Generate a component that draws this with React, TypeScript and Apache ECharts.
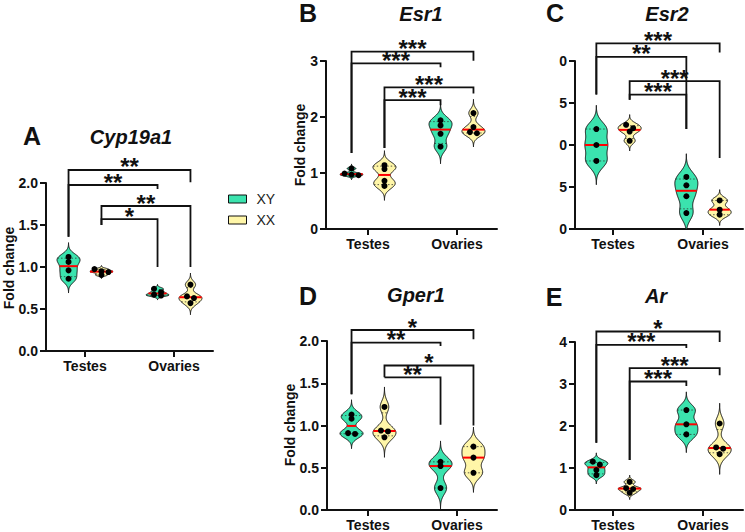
import React, { useEffect, useRef } from 'react';
import * as echarts from 'echarts';

const CATEGORIES = ['Testes', 'Ovaries'];
const GROUP_NAMES = ['XY', 'XX'];
const PANEL_LETTERS = ['A', 'B', 'C', 'D', 'E'];
const GENES = ['Cyp19a1', 'Esr1', 'Esr2', 'Gper1', 'Ar'];
const Y_TITLE = 'Fold change';

// group order in every panel: 0 Testes XY, 1 Testes XX, 2 Ovaries XY, 3 Ovaries XX
const CYP19A1_TESTES_XY = [1.12, 1.06, 0.96, 0.86];
const CYP19A1_TESTES_XX = [0.975, 0.95, 0.94, 0.905];
const CYP19A1_OVARIES_XY = [0.74, 0.7, 0.67, 0.66];
const CYP19A1_OVARIES_XX = [0.79, 0.65, 0.63, 0.57];

const ESR1_TESTES_XY = [1.08, 0.99, 0.97, 0.96];
const ESR1_TESTES_XX = [1.14, 1.07, 0.86, 0.77];
const ESR1_OVARIES_XY = [1.94, 1.85, 1.7, 1.47];
const ESR1_OVARIES_XX = [2.07, 1.82, 1.73, 1.71];

const ESR2_TESTES_XY = [1.19, 1.0, 0.81];
const ESR2_TESTES_XX = [1.24, 1.2, 1.16, 1.05];
const ESR2_OVARIES_XY = [0.62, 0.52, 0.39, 0.19];
const ESR2_OVARIES_XX = [0.34, 0.23, 0.17];

const GPER1_TESTES_XY = [1.13, 1.08, 0.91, 0.9];
const GPER1_TESTES_XX = [1.22, 0.94, 0.93, 0.86];
const GPER1_OVARIES_XY = [0.57, 0.52, 0.26];
const GPER1_OVARIES_XX = [0.75, 0.62, 0.44];

const AR_TESTES_XY = [1.15, 1.08, 0.95, 0.83];
const AR_TESTES_XX = [0.67, 0.52, 0.5, 0.41];
const AR_OVARIES_XY = [2.38, 2.04, 1.8];
const AR_OVARIES_XX = [2.06, 1.49, 1.46, 1.33];

// y-axis tick labels (C is cropped in the source figure)
const CYP19A1_TICKS = ['0.0', '0.5', '1.0', '1.5', '2.0'];
const ESR1_TICKS = ['0', '1', '2', '3'];
const ESR2_TICKS = ['0', '5', '0', '5', '0'];
const GPER1_TICKS = ['0.0', '0.5', '1.0', '1.5', '2.0'];
const AR_TICKS = ['0', '1', '2', '3', '4'];
const TICK_STEPS = [0.5, 1, 0.5, 0.5, 1];

// significance brackets: [fromGroup, toGroup, barValue, leftEndValue, rightEndValue]
const CYP19A1_BRACKETS = [[0, 3, 2.155, 1.36, 2.01], [0, 2, 1.976, 1.36, 1.93], [1, 3, 1.726, 1.5, 1.0], [1, 2, 1.571, 1.5, 1.0]];
const CYP19A1_STARS = ['**', '**', '**', '*'];
const ESR1_BRACKETS = [[0, 3, 3.166, 1.357, 3.005], [0, 2, 2.958, 1.357, 2.887], [1, 3, 2.53, 1.446, 2.42], [1, 2, 2.3, 1.446, 2.21]];
const ESR1_STARS = ['***', '***', '***', '***'];
const ESR2_BRACKETS = [[0, 3, 2.21, 1.6, 2.1], [0, 2, 2.05, 1.6, 1.19], [1, 3, 1.76, 1.54, 0.845], [1, 2, 1.6, 1.54, 1.19]];
const ESR2_STARS = ['***', '**', '***', '***'];
const GPER1_BRACKETS = [[0, 3, 2.13, 1.37, 2.02], [0, 2, 1.98, 1.37, 1.94], [1, 3, 1.71, 1.57, 1.0], [1, 2, 1.57, 1.57, 1.01]];
const GPER1_STARS = ['*', '**', '*', '**'];
const AR_BRACKETS = [[0, 3, 4.25, 1.6, 4.0], [0, 2, 3.93, 1.6, 3.86], [1, 3, 3.38, 1.19, 3.21], [1, 2, 3.06, 1.19, 2.95]];
const AR_STARS = ['*', '***', '***', '***'];

const PANEL_GROUPS = [
  [CYP19A1_TESTES_XY, CYP19A1_TESTES_XX, CYP19A1_OVARIES_XY, CYP19A1_OVARIES_XX],
  [ESR1_TESTES_XY, ESR1_TESTES_XX, ESR1_OVARIES_XY, ESR1_OVARIES_XX],
  [ESR2_TESTES_XY, ESR2_TESTES_XX, ESR2_OVARIES_XY, ESR2_OVARIES_XX],
  [GPER1_TESTES_XY, GPER1_TESTES_XX, GPER1_OVARIES_XY, GPER1_OVARIES_XX],
  [AR_TESTES_XY, AR_TESTES_XX, AR_OVARIES_XY, AR_OVARIES_XX],
];
const PANEL_TICKS = [CYP19A1_TICKS, ESR1_TICKS, ESR2_TICKS, GPER1_TICKS, AR_TICKS];
const PANEL_BRACKETS = [CYP19A1_BRACKETS, ESR1_BRACKETS, ESR2_BRACKETS, GPER1_BRACKETS, AR_BRACKETS];
const PANEL_STARS = [CYP19A1_STARS, ESR1_STARS, ESR2_STARS, GPER1_STARS, AR_STARS];

// ---- layout (pixels) ----
const LAYOUT = [
  { left: 46, top: 183, width: 167, height: 168, tx: 85, ox: 174, letter: [32, 136], gene: [131, 137], yTitle: [9, 268] },
  { left: 326, top: 61, width: 171, height: 168, tx: 368, ox: 457, letter: [308, 13], gene: [421, 14], yTitle: [300, 145] },
  { left: 575, top: 61, width: 168, height: 168, tx: 613, ox: 703, letter: [555, 13], gene: [667, 14], yTitle: null },
  { left: 327, top: 341, width: 170, height: 169, tx: 368, ox: 457, letter: [308, 296], gene: [416, 295], yTitle: [290, 425] },
  { left: 575, top: 342, width: 168, height: 168, tx: 613, ox: 703, letter: [554, 297], gene: [656, 296], yTitle: null },
];

const FONT = '"Liberation Sans", Arial, sans-serif';
const FILLS = ['#3BE3AE', '#FFF6A8'];
const HALF_W = 11.5;
const GROUP_OFFSET = 0.185;
const groupX = (g: number) => Math.floor(g / 2) + (g % 2 === 0 ? -GROUP_OFFSET : GROUP_OFFSET);

function quantile(sorted: number[], p: number) {
  const n = sorted.length;
  const r = (n + 1) * p;
  const lo = Math.floor(r);
  const f = r - lo;
  if (lo < 1) return sorted[0];
  if (lo >= n) return sorted[n - 1];
  return sorted[lo - 1] + f * (sorted[lo] - sorted[lo - 1]);
}

function buildViolin(values: number[]) {
  const n = values.length;
  const mean = values.reduce((a, b) => a + b, 0) / n;
  const sd = Math.sqrt(values.reduce((a, v) => a + (v - mean) ** 2, 0) / (n - 1));
  const h = 0.45 * sd;
  const lo = Math.min(...values) - 3.3 * h;
  const hi = Math.max(...values) + 3.3 * h;
  const dens = (y: number) => values.reduce((a, v) => a + Math.exp(-0.5 * ((y - v) / h) ** 2), 0);
  const edge = Math.max(dens(lo), dens(hi));
  const N = 140;
  const raw: number[][] = [];
  let maxD = 0;
  for (let i = 0; i <= N; i++) {
    const y = lo + ((hi - lo) * i) / N;
    const d = dens(y);
    raw.push([y, d]);
    if (d > maxD) maxD = d;
  }
  const norm = (d: number) => Math.max(0, (d - edge) / (maxD - edge));
  const sorted = [...values].sort((a, b) => a - b);
  return {
    profile: raw.map(([y, d]) => [y, norm(d)]),
    width: (y: number) => (y < lo || y > hi ? 0 : norm(dens(y))),
    median: quantile(sorted, 0.5),
    q1: quantile(sorted, 0.25),
    q3: quantile(sorted, 0.75),
    values,
  };
}

function violinRenderer(panel: number) {
  const stats = PANEL_GROUPS[panel].map(buildViolin);
  return (params: any, api: any) => {
    const g = api.value(0);
    const s = stats[g];
    const xv = groupX(g);
    const cx = api.coord([xv, 0])[0];
    const py = (y: number) => api.coord([xv, y])[1];
    const left: number[][] = [];
    const right: number[][] = [];
    s.profile.forEach(([y, w]) => {
      const p = py(y);
      left.push([cx - w * HALF_W, p]);
      right.push([cx + w * HALF_W, p]);
    });
    const children: any[] = [
      { type: 'polygon', shape: { points: left.concat(right.reverse()) }, style: { fill: FILLS[g % 2], stroke: '#111', lineWidth: 1 } },
    ];
    [s.q1, s.q3].forEach((q) => {
      const w = s.width(q) * HALF_W;
      const p = py(q);
      children.push({ type: 'line', shape: { x1: cx - w, y1: p, x2: cx + w, y2: p }, style: { stroke: '#333', lineWidth: 0.8, lineDash: [1.5, 2] } });
    });
    const mw = s.width(s.median) * HALF_W;
    const mp = py(s.median);
    children.push({ type: 'line', shape: { x1: cx - mw, y1: mp, x2: cx + mw, y2: mp }, style: { stroke: '#FF0000', lineWidth: 2 } });
    // dots, spread side by side when they overlap
    const order = s.values.map((v) => py(v)).sort((a, b) => a - b);
    const bins: number[][] = [];
    order.forEach((p) => {
      const last = bins[bins.length - 1];
      if (last && Math.abs(p - last[0]) < 3.5) last.push(p);
      else bins.push([p]);
    });
    bins.forEach((b) =>
      b.forEach((p, k) => {
        children.push({ type: 'circle', shape: { cx: cx + (k - (b.length - 1) / 2) * 7, cy: p, r: 3 }, style: { fill: '#000' } });
      })
    );
    return { type: 'group', children };
  };
}

function bracketRenderer(panel: number) {
  const stars = PANEL_STARS[panel];
  return (params: any, api: any) => {
    const x1 = api.coord([groupX(api.value(0)), 0])[0];
    const x2 = api.coord([groupX(api.value(1)), 0])[0];
    const yb = api.coord([0, api.value(2)])[1];
    const yl = api.coord([0, api.value(3)])[1];
    const yr = api.coord([0, api.value(4)])[1];
    return {
      type: 'group',
      children: [
        { type: 'polyline', shape: { points: [[x1, yl], [x1, yb], [x2, yb], [x2, yr]] }, style: { stroke: '#111', lineWidth: 1.8, fill: 'none' } },
        {
          type: 'text',
          x: (x1 + x2) / 2,
          y: yb - 3,
          style: {
            text: stars[params.dataIndex], font: `bold 24px ${FONT}`, lineHeight: 12, fill: '#111',
            textAlign: 'center', textVerticalAlign: 'middle', align: 'center', verticalAlign: 'middle',
          },
        },
      ],
    };
  };
}

function buildOption() {
  const grid: any[] = [];
  const xAxis: any[] = [];
  const yAxis: any[] = [];
  const series: any[] = [];
  const graphic: any[] = [];
  LAYOUT.forEach((l, i) => {
    const span = l.ox - l.tx;
    grid.push({ left: l.left, top: l.top, width: l.width, height: l.height });
    xAxis.push({
      type: 'value',
      gridIndex: i,
      min: -(l.tx - l.left) / span,
      max: 1 + (l.left + l.width - l.ox) / span,
      splitLine: { show: false },
      axisLine: { show: true, onZero: false, lineStyle: { color: '#111', width: 2 } },
      axisTick: { show: true, customValues: [0, 1], length: 6, lineStyle: { color: '#111', width: 2 } },
      axisLabel: {
        customValues: [0, 1],
        formatter: (v: number) => CATEGORIES[Math.round(v)],
        fontFamily: FONT, fontWeight: 'bold', fontSize: 14, color: '#111', margin: 8,
      },
    });
    const step = TICK_STEPS[i];
    const ticks = PANEL_TICKS[i];
    yAxis.push({
      type: 'value',
      gridIndex: i,
      min: 0,
      max: step * (ticks.length - 1),
      interval: step,
      splitLine: { show: false },
      axisLine: { show: true, onZero: false, lineStyle: { color: '#111', width: 2 } },
      axisTick: { show: true, length: 6, lineStyle: { color: '#111', width: 2 } },
      axisLabel: {
        formatter: (v: number) => ticks[Math.round(v / step)],
        fontFamily: FONT, fontWeight: 'bold', fontSize: 14, color: '#111', margin: 8,
      },
    });
    GROUP_NAMES.forEach((name, k) => {
      series.push({
        type: 'custom',
        name,
        xAxisIndex: i,
        yAxisIndex: i,
        clip: true,
        itemStyle: { color: FILLS[k], borderColor: '#111', borderWidth: 1 },
        data: [[k, 0], [k + 2, 0]],
        renderItem: violinRenderer(i),
      });
    });
    series.push({
      type: 'custom',
      name: 'brackets' + i,
      xAxisIndex: i,
      yAxisIndex: i,
      clip: false,
      silent: true,
      data: PANEL_BRACKETS[i],
      renderItem: bracketRenderer(i),
    });
    graphic.push({
      type: 'text', x: l.letter[0], y: l.letter[1],
      style: { text: PANEL_LETTERS[i], font: `bold 25px ${FONT}`, fill: '#111', textAlign: 'center', textVerticalAlign: 'middle' },
    });
    graphic.push({
      type: 'text', x: l.gene[0], y: l.gene[1],
      style: { text: GENES[i], font: `italic bold 20px ${FONT}`, fill: '#111', textAlign: 'center', textVerticalAlign: 'middle' },
    });
    if (l.yTitle) {
      graphic.push({
        type: 'text', x: l.yTitle[0], y: l.yTitle[1], rotation: Math.PI / 2,
        style: { text: Y_TITLE, font: `bold 14px ${FONT}`, fill: '#111', textAlign: 'center', textVerticalAlign: 'middle' },
      });
    }
  });
  return {
    animation: false,
    backgroundColor: '#ffffff',
    grid,
    xAxis,
    yAxis,
    series,
    graphic,
    legend: {
      data: GROUP_NAMES.map((name, k) => ({ name, itemStyle: { color: FILLS[k], borderColor: '#111', borderWidth: 1 } })),
      orient: 'vertical',
      left: 223,
      top: 187,
      icon: 'rect',
      itemWidth: 18,
      itemHeight: 8,
      itemGap: 7,
      selectedMode: false,
      textStyle: { fontFamily: FONT, fontSize: 14, color: '#222', padding: [0, 0, 0, 5] },
    },
  };
}

export default function App() {
  const ref = useRef<HTMLDivElement>(null);
  useEffect(() => {
    if (!ref.current) return;
    const chart = echarts.init(ref.current, null, { renderer: 'svg' });
    chart.setOption(buildOption() as any);
    return () => chart.dispose();
  }, []);
  return <div ref={ref} style={{ position: 'absolute', left: 0, top: 0, width: 745, height: 532, background: '#fff' }} />;
}
